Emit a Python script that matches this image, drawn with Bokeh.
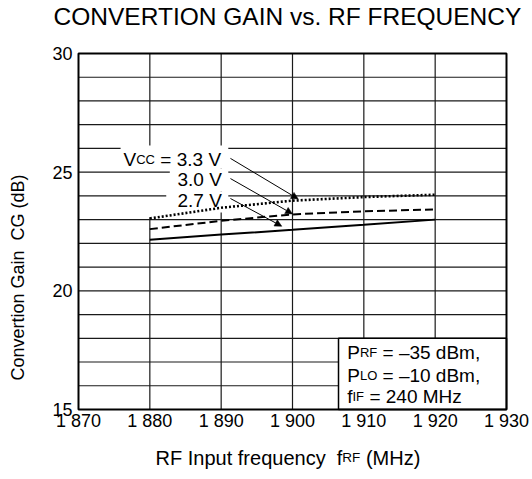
from bokeh.plotting import figure
from bokeh.models import Range1d, FixedTicker, Arrow, NormalHead
from bokeh.embed import file_html
from bokeh.resources import INLINE
from bokeh.core.properties import value
import math

# ---------------- data ----------------
freq = [1880, 1890, 1900, 1910, 1920]
cg_33 = [23.05, 23.50, 23.80, 23.95, 24.05]
cg_30 = [22.60, 22.95, 23.22, 23.35, 23.43]
cg_27 = [22.15, 22.37, 22.57, 22.78, 23.00]

x_ticks = [1870, 1880, 1890, 1900, 1910, 1920, 1930]
x_tick_labels = ["1 870", "1 880", "1 890", "1 900", "1 910", "1 920", "1 930"]
y_ticks = [15, 20, 25, 30]
y_grid = list(range(15, 31))
x_grid = [1880, 1890, 1900, 1910, 1920]
X_MIN, X_MAX, Y_MIN, Y_MAX = 1870, 1930, 15, 30

FONT = "Liberation Sans"

# the frame spans the whole canvas; the chart box is drawn inside it
p = figure(width=532, height=479, output_backend="svg", toolbar_location=None,
           x_range=Range1d(1859.065, 1933.645), y_range=Range1d(12.05, 32.233),
           min_border=0, min_border_left=0, min_border_right=0,
           min_border_top=0, min_border_bottom=0)
p.background_fill_color = "white"
p.border_fill_color = "white"
p.outline_line_color = None
p.xgrid.visible = False
p.ygrid.visible = False

for ax in (p.xaxis[0], p.yaxis[0]):
    ax.axis_line_color = None
    ax.major_tick_line_color = None
    ax.minor_tick_line_color = None
    ax.major_tick_out = 0
    ax.major_tick_in = 0
    ax.minor_tick_out = 0
    ax.minor_tick_in = 0
    ax.major_label_text_font = FONT
    ax.major_label_text_font_size = "18px"
    ax.major_label_text_color = "black"
p.xaxis.fixed_location = Y_MIN
p.yaxis.fixed_location = X_MIN
p.xaxis.major_label_standoff = 2
p.yaxis.major_label_standoff = 6
p.xaxis.ticker = FixedTicker(ticks=x_ticks)
p.xaxis.major_label_overrides = {t: l for t, l in zip(x_ticks, x_tick_labels)}
p.yaxis.ticker = FixedTicker(ticks=y_ticks)

# ---------------- grid ----------------
gc = "#1a1a1a"
p.segment(x0=[X_MIN] * len(y_grid), y0=y_grid, x1=[X_MAX] * len(y_grid), y1=y_grid,
          line_color=gc, line_width=1.2)
vx0, vy0, vx1, vy1 = [], [], [], []
for g in x_grid:
    if g == 1880:
        vx0 += [g, g]; vy0 += [Y_MIN, 26.1]; vx1 += [g, g]; vy1 += [23.1, Y_MAX]
    else:
        vx0.append(g); vy0.append(Y_MIN); vx1.append(g); vy1.append(Y_MAX)
p.segment(x0=vx0, y0=vy0, x1=vx1, y1=vy1, line_color=gc, line_width=1.2)

# white backgrounds behind labels
p.quad(left=[1875.9, 1882.8, 1882.3], right=[1891.0, 1891.0, 1891.0],
       bottom=[25.15, 24.18, 23.3], top=[26.12, 25.15, 24.18],
       fill_color="white", line_color=None)

# condition box
p.quad(left=[1906.45], right=[X_MAX], bottom=[Y_MIN], top=[18.0],
       fill_color="white", line_color="black", line_width=1.5)
# chart border
p.quad(left=[X_MIN], right=[X_MAX], bottom=[Y_MIN], top=[Y_MAX],
       fill_color=None, line_color="black", line_width=2)

# ---------------- curves ----------------
p.line(freq, cg_33, line_color="black", line_width=2.6, line_dash="2 2")
p.line(freq, cg_30, line_color="black", line_width=2.0, line_dash="8 4")
p.line(freq, cg_27, line_color="black", line_width=2.0)

# ---------------- leader arrows ----------------
for (xs, ys, xe, ye) in [(1891.3, 25.58, 1900.8, 23.87),
                         (1891.3, 24.73, 1900.0, 23.24),
                         (1891.3, 23.89, 1898.5, 22.72)]:
    p.add_layout(Arrow(end=NormalHead(size=7, fill_color="black", line_color="black", line_width=0.5),
                       x_start=xs, y_start=ys, x_end=xe, y_end=ye,
                       line_color="black", line_width=1))


def parts_text(x, y, parts, dy=0.0, angle=0.0, baseline="alphabetic"):
    for txt, size, xo, yo in parts:
        p.text(x=[x], y=[y], text=[txt], x_offset=xo, y_offset=yo + dy, angle=angle,
               text_font=value(FONT), text_font_size=size,
               text_color="black", text_align="left", text_baseline=baseline)


M, S = "19px", "13px"
# curve labels
parts_text(1876.31, 25.32, [("V", M, 0, 0), ("CC", S, 12.7, 0), ("= 3.3 V", M, 36.8, 0)], dy=-5)
parts_text(1883.88, 24.48, [("3.0 V", M, 0, 0)], dy=-5)
parts_text(1883.88, 23.59, [("2.7 V", M, 0, 0)], dy=-5)

# condition text
parts_text(1907.67, 17.15, [("P", M, 0, 0), ("RF", S, 12.7, 0), ("= –35 dBm,", M, 35.3, 0)], dy=-5.5)
parts_text(1907.67, 16.22, [("P", M, 0, 0), ("LO", S, 12.7, 0), ("= –10 dBm,", M, 35.3, 0)], dy=-5.5)
parts_text(1907.67, 15.33, [("f", M, 0, 0), ("IF", S, 5.3, 0), ("= 240 MHz", M, 22.2, 0)], dy=-5.5)

# title
parts_text(1866.5, 31.25, [("CONVERTION GAIN vs. RF FREQUENCY", "24.5px", 0, 0)], dy=-7)
# x axis label
parts_text(1880.8, 12.72, [("RF Input frequency", "20px", 0, 0), ("f", "20px", 181.2, 0),
                           ("RF", "13.5px", 186.8, 0), ("(MHz)", "20px", 210.4, 0)], dy=-6)
# y axis label (rotated)
parts_text(1861.52, 16.22, [("Convertion Gain", "18px", 0, 0), ("CG (dB)", "18px", 0, -140)],
           angle=math.pi / 2, baseline="middle")

open("out.html", "w").write(file_html(p, INLINE))
